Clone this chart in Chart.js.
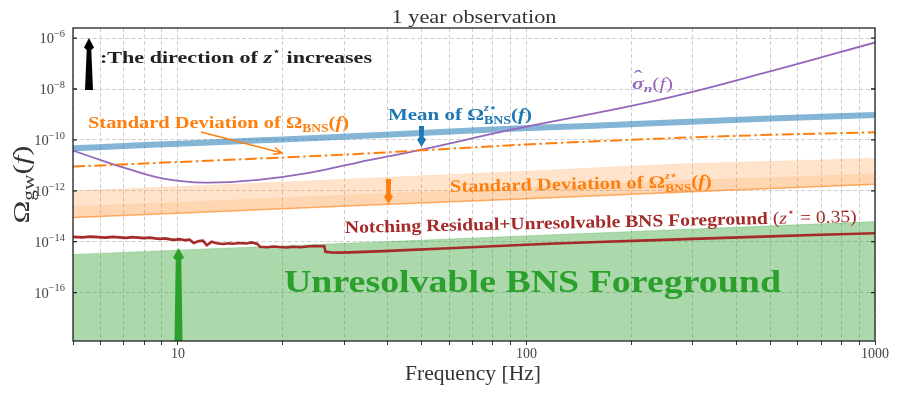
<!DOCTYPE html>
<html>
<head>
<meta charset="utf-8">
<script src="https://cdn.jsdelivr.net/npm/chart.js@4.4.1/dist/chart.umd.min.js"></script>
<style>
  html, body { margin: 0; padding: 0; background: #fff; }
</style>
</head>
<body>
<canvas id="gwChart" width="897" height="393"></canvas>
<script>
// all curve values are log10(Omega_gw)

// mean of Omega_BNS^z* (thick blue)
const meanFreq = [5, 7, 10, 15, 20, 33, 50, 90, 150, 240, 500, 1000];
const meanLog = [-10.33, -10.24, -10.15, -10.05, -9.98, -9.85, -9.73, -9.56, -9.45, -9.34, -9.16, -9.02];

// standard deviation of Omega_BNS (orange dash-dot)
const stdFreq = [5, 10, 20, 33, 50, 100, 240, 500, 1000];
const stdLog = [-11.05, -10.87, -10.69, -10.55, -10.41, -10.18, -9.95, -9.80, -9.70];

// sigma_n(f) (purple)
const sigmaFreq = [5, 6.4, 7, 9, 12, 17, 24, 33, 50, 90, 240, 500, 1000];
const sigmaLog = [-10.42, -10.92, -11.09, -11.51, -11.68, -11.57, -11.29, -10.88, -10.38, -9.61, -8.43, -7.31, -6.17];

// standard deviation of Omega_BNS^z* (orange band)
const bandFreq = [5, 10, 33, 100, 275, 1000];
const bandLow = [-13.05, -12.88, -12.58, -12.31, -12.06, -11.74];
const bandMid = [-12.62, -12.45, -12.15, -11.87, -11.60, -11.34];
const bandHigh = [-12.00, -11.83, -11.52, -11.22, -10.94, -10.72];

// unresolvable BNS foreground (green, top edge)
const fgFreq = [5, 1000];
const fgLog = [-14.50, -13.21];

// notching residual + unresolvable foreground, z* = 0.35 (dark red)
const notchFreq = [5.0, 5.3, 5.6, 5.9, 6.2, 6.5, 6.8, 7.1, 7.4, 7.7, 8.0, 8.3, 8.6, 8.9, 9.2, 9.5, 9.8,
  10.1, 10.5, 10.8, 11.1, 11.5, 11.8, 12.1, 12.5, 12.9, 13.5, 14.0, 14.4, 15.0, 15.7, 16.3, 16.9,
  17.2, 18.0, 18.8, 19.5, 20.5, 21.4, 22.5, 23.5, 24.4, 25.5, 26.3, 26.5, 27.5, 29, 31, 34, 39,
  45, 60, 80, 116, 160, 224, 350, 500, 700, 1000];
const notchLog = [-13.81, -13.83, -13.80, -13.82, -13.84, -13.81, -13.83, -13.85, -13.82, -13.84, -13.86, -13.84, -13.87, -13.89, -13.87, -13.91, -13.93,
  -13.90, -13.94, -13.92, -14.05, -13.97, -13.96, -14.14, -14.00, -14.06, -14.09, -14.06, -14.08, -14.05, -14.07, -14.03, -14.09,
  -14.20, -14.22, -14.19, -14.21, -14.23, -14.20, -14.22, -14.19, -14.17, -14.18, -14.17, -14.40, -14.42, -14.43, -14.42, -14.40, -14.37,
  -14.33, -14.26, -14.18, -14.08, -14.01, -13.95, -13.86, -13.79, -13.73, -13.67];

// axes
const xTicks = [5, 6, 7, 8, 9, 10, 20, 30, 40, 50, 60, 70, 80, 90, 100, 200, 300, 400, 500, 600, 700, 800, 900, 1000];
const xLabels = [10, 100, 1000];
const yTickExp = [-16, -14, -12, -10, -8, -6];

const SERIF = '"Liberation Serif", "DejaVu Serif", "DejaVu Sans", serif';

function pts(freq, logs) {
  return freq.map((f, i) => ({ x: f, y: Math.pow(10, logs[i]) }));
}

// ---- rich text helpers (sub/superscripts, stretched to a target width)
function fontOf(seg, size) {
  return (seg.i ? 'italic ' : '') + (seg.b ? 'bold ' : '') + (size * (seg.s || 1)).toFixed(1) + 'px ' + SERIF;
}
function layoutRich(ctx, segs, size) {
  let x = 0, pending = 0;
  const out = [];
  segs.forEach(seg => {
    ctx.font = fontOf(seg, size);
    const w = ctx.measureText(seg.t).width;
    out.push({ seg, x, font: ctx.font });
    if (seg.hold) pending = Math.max(pending, w);
    else { x += Math.max(w, pending); pending = 0; }
  });
  return { out, width: x };
}
function drawRich(ctx, segs, o) {
  ctx.save();
  const lay = layoutRich(ctx, segs, o.size);
  const sx = o.width ? o.width / lay.width : 1;
  ctx.translate(o.x, o.y);
  if (o.angle) ctx.rotate(o.angle * Math.PI / 180);
  if (o.align === 'center') ctx.translate(-lay.width * sx / 2, 0);
  if (o.align === 'right') ctx.translate(-lay.width * sx, 0);
  ctx.scale(sx, 1);
  ctx.fillStyle = o.color;
  ctx.textBaseline = 'alphabetic';
  ctx.textAlign = 'left';
  lay.out.forEach(it => {
    ctx.font = it.font;
    ctx.fillText(it.seg.t, it.x + (it.seg.dx || 0) * o.size, (it.seg.dy || 0) * o.size);
  });
  ctx.restore();
}

// vertical fancy arrow, tip at (x, yTip)
function vArrow(ctx, x, yTail, yTip, c) {
  const dir = yTip < yTail ? -1 : 1;
  const yBase = yTip - dir * c.head;
  ctx.save();
  ctx.fillStyle = c.color;
  ctx.beginPath();
  ctx.moveTo(x, yTip);
  ctx.lineTo(x + c.hw, yBase + dir * 1.5);
  ctx.lineTo(x + c.st, yBase - dir * 1);
  ctx.lineTo(x + c.sb, yTail);
  ctx.lineTo(x - c.sb, yTail);
  ctx.lineTo(x - c.st, yBase - dir * 1);
  ctx.lineTo(x - c.hw, yBase + dir * 1.5);
  ctx.closePath();
  ctx.fill();
  ctx.restore();
}

const overlay = {
  id: 'overlay',
  afterDatasetsDraw(chart) {
    const { ctx } = chart;
    vArrow(ctx, 178.5, 341, 248, { color: '#2ca02c', head: 11, hw: 5.5, st: 2.8, sb: 4 });
    vArrow(ctx, 89, 90, 38, { color: '#000', head: 11, hw: 5, st: 2.3, sb: 4 });
    vArrow(ctx, 421.5, 126, 147, { color: '#1f77b4', head: 9, hw: 4.5, st: 2.2, sb: 2.6 });
    vArrow(ctx, 388.5, 179, 204, { color: '#ff7f0e', head: 9, hw: 4.5, st: 2.2, sb: 2.6 });

    // thin pointer to the dash-dot line
    ctx.save();
    ctx.strokeStyle = '#ff7f0e';
    ctx.lineWidth = 1.4;
    const x0 = 201, y0 = 132, x1 = 282, y1 = 153;
    const ang = Math.atan2(y1 - y0, x1 - x0);
    ctx.beginPath();
    ctx.moveTo(x0, y0); ctx.lineTo(x1, y1);
    ctx.moveTo(x1 - 9 * Math.cos(ang - 0.4), y1 - 9 * Math.sin(ang - 0.4));
    ctx.lineTo(x1, y1);
    ctx.lineTo(x1 - 9 * Math.cos(ang + 0.4), y1 - 9 * Math.sin(ang + 0.4));
    ctx.stroke();
    ctx.restore();
  },
  afterDraw(chart) {
    const { ctx, chartArea: a, scales } = chart;
    const ys = scales.y;

    // frame
    ctx.save();
    ctx.strokeStyle = '#222';
    ctx.lineWidth = 1.3;
    ctx.strokeRect(a.left, a.top, a.right - a.left, a.bottom - a.top);
    // inward y ticks + labels 10^n
    yTickExp.forEach(e => {
      const py = ys.getPixelForValue(Math.pow(10, e));
      ctx.beginPath();
      ctx.moveTo(a.left, py); ctx.lineTo(a.left + 4, py);
      ctx.moveTo(a.right, py); ctx.lineTo(a.right - 4, py);
      ctx.stroke();
      drawRich(ctx, [{ t: '10' }, { t: '\u2212' + Math.abs(e), s: 0.72, dy: -0.42 }],
        { x: 65, y: py + 5, size: 14.5, color: '#444', align: 'right' });
    });
    ctx.restore();

    // titles
    drawRich(ctx, [{ t: '1 year observation' }], { x: 474, y: 23, size: 19, width: 165, color: '#333', align: 'center' });
    drawRich(ctx, [{ t: 'Frequency [Hz]' }], { x: 473, y: 380, size: 22, width: 136, color: '#333', align: 'center' });
    drawRich(ctx, [{ t: '\u03A9' }, { t: 'gw', s: 0.7, dy: 0.22 }, { t: '(' }, { t: 'f', i: 1 }, { t: ')' }],
      { x: 29, y: 184.5, size: 24, width: 78, color: '#333', align: 'center', angle: -90 });

    // annotations
    drawRich(ctx, [{ t: ':The direction of ', b: 1 }, { t: 'z', b: 1, i: 1 }, { t: '\u22C6', s: 0.65, dy: -0.45 }, { t: ' increases', b: 1 }],
      { x: 100, y: 63, size: 17.5, width: 272, color: '#222' });
    drawRich(ctx, [{ t: 'Standard Deviation of ', b: 1 }, { t: '\u03A9', b: 1 }, { t: 'BNS', b: 1, s: 0.66, dy: 0.22 },
      { t: '(', b: 1 }, { t: 'f', b: 1, i: 1 }, { t: ')', b: 1 }],
      { x: 88, y: 128, size: 17.5, width: 261, color: '#ff7f0e' });
    drawRich(ctx, [{ t: 'Mean of ', b: 1 }, { t: '\u03A9', b: 1 }, { t: 'z\u22C6', b: 1, i: 1, s: 0.6, dy: -0.5, hold: 1 },
      { t: 'BNS', b: 1, s: 0.66, dy: 0.25 }, { t: '(', b: 1 }, { t: 'f', b: 1, i: 1 }, { t: ')', b: 1 }],
      { x: 388, y: 120, size: 17.5, width: 144, color: '#1f77b4' });
    drawRich(ctx, [{ t: '\u03C3', b: 1, i: 1, hold: 1 }, { t: '\u02C6', s: 1.2, dy: -0.38, dx: 0.08 },
      { t: 'n', b: 1, i: 1, s: 0.7, dy: 0.2 }, { t: '(' }, { t: 'f', i: 1 }, { t: ')' }],
      { x: 632, y: 89, size: 16, width: 41, color: '#9467bd' });
    drawRich(ctx, [{ t: 'Standard Deviation of ', b: 1 }, { t: '\u03A9', b: 1 }, { t: 'z\u22C6', b: 1, i: 1, s: 0.6, dy: -0.5, hold: 1 },
      { t: 'BNS', b: 1, s: 0.66, dy: 0.25 }, { t: '(', b: 1 }, { t: 'f', b: 1, i: 1 }, { t: ')', b: 1 }],
      { x: 450, y: 192, size: 17.5, width: 262, color: '#ff7f0e', angle: -1.15 });
    drawRich(ctx, [{ t: 'Notching Residual+Unresolvable BNS Foreground ', b: 1 }, { t: '(' }, { t: 'z', i: 1 },
      { t: '\u22C6', s: 0.65, dy: -0.45 }, { t: ' = 0.35)' }],
      { x: 345, y: 233, size: 17.5, width: 512, color: '#a52a2a', angle: -1.23 });
    drawRich(ctx, [{ t: 'Unresolvable BNS Foreground', b: 1 }],
      { x: 284, y: 292, size: 32, width: 497, color: '#2ca02c' });
  }
};

const ctx = document.getElementById('gwChart').getContext('2d');
new Chart(ctx, {
  type: 'line',
  data: {
    datasets: [
      { // 0 green foreground
        data: pts(fgFreq, fgLog), borderColor: 'rgba(44,160,44,0.25)', borderWidth: 1,
        backgroundColor: 'rgba(44,160,44,0.4)', fill: 'start', order: 9
      },
      { // 1 orange band bottom line
        data: pts(bandFreq, bandLow), borderColor: 'rgba(255,127,14,0.6)', borderWidth: 1.5,
        fill: false, order: 8
      },
      { // 2 orange band mid
        data: pts(bandFreq, bandMid), borderColor: 'rgba(255,127,14,0.06)', borderWidth: 1,
        backgroundColor: 'rgba(255,127,14,0.32)', fill: '-1', order: 7
      },
      { // 3 orange band top
        data: pts(bandFreq, bandHigh), borderColor: 'rgba(255,127,14,0.06)', borderWidth: 1,
        backgroundColor: 'rgba(255,127,14,0.22)', fill: '-1', order: 6
      },
      { // 4 mean (blue)
        data: pts(meanFreq, meanLog), borderColor: 'rgba(31,119,180,0.55)', borderWidth: 6,
        fill: false, tension: 0.3, order: 5
      },
      { // 5 std dash-dot
        data: pts(stdFreq, stdLog), borderColor: '#ff7f0e', borderWidth: 2,
        borderDash: [12, 3.5, 2.5, 3.5], fill: false, tension: 0.3, order: 3
      },
      { // 6 sigma_n
        data: pts(sigmaFreq, sigmaLog), borderColor: '#9467bd', borderWidth: 1.8,
        fill: false, tension: 0.4, order: 4
      },
      { // 7 notching residual
        data: pts(notchFreq, notchLog), borderColor: '#a52a2a', borderWidth: 2.6,
        fill: false, tension: 0, order: 1
      }
    ]
  },
  options: {
    responsive: false,
    animation: false,
    events: [],
    elements: { point: { radius: 0 } },
    layout: { padding: { top: 28, right: 22, left: 0, bottom: 0 } },
    plugins: { legend: { display: false }, tooltip: { enabled: false } },
    scales: {
      x: {
        type: 'logarithmic', min: 5, max: 1000,
        afterBuildTicks: s => { s.ticks = xTicks.map(v => ({ value: v })); },
        afterFit: s => { s.height = 52; },
        ticks: {
          autoSkip: false, maxRotation: 0, padding: 1, color: '#444',
          font: { family: SERIF, size: 14 },
          callback: v => xLabels.includes(v) ? String(v) : ''
        },
        grid: { color: '#c8c8c8', lineWidth: 0.9, tickLength: 4, tickColor: '#333', tickWidth: 1 },
        border: { display: false, dash: [4, 2.5] }
      },
      y: {
        type: 'logarithmic', min: 1.25e-18, max: 2.5e-6,
        afterBuildTicks: s => { s.ticks = yTickExp.map(e => ({ value: Math.pow(10, e) })); },
        afterFit: s => { s.width = 73; },
        ticks: { callback: () => '' },
        grid: { color: '#c8c8c8', lineWidth: 0.9, drawTicks: false },
        border: { display: false, dash: [4, 2.5] }
      }
    }
  },
  plugins: [overlay]
});
</script>
</body>
</html>
